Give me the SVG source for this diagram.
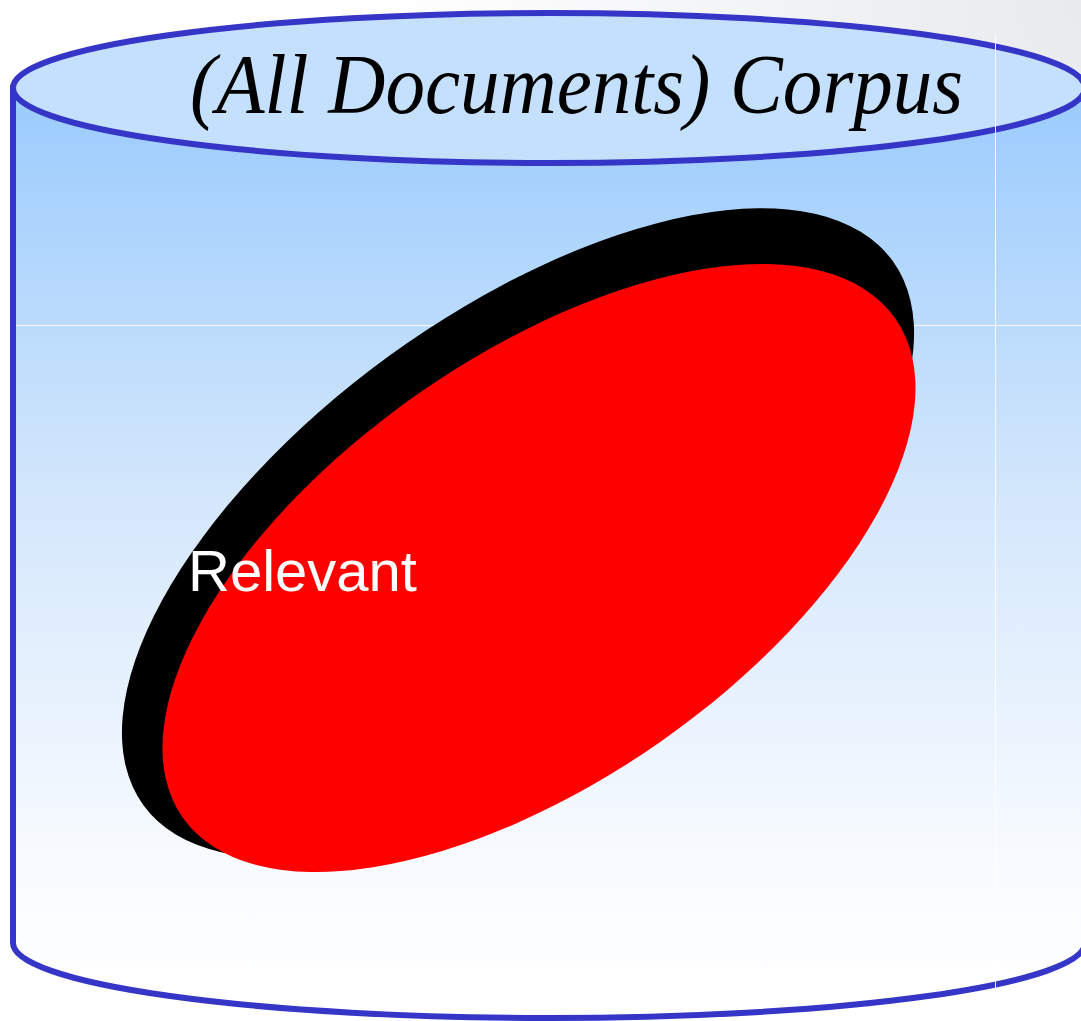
<svg xmlns="http://www.w3.org/2000/svg" width="1081" height="1021" viewBox="0 0 1081 1021">
  <defs>
    <radialGradient id="bg" cx="1081" cy="0" r="700" gradientUnits="userSpaceOnUse">
      <stop offset="0" stop-color="#e8eaee"/>
      <stop offset="1" stop-color="#ffffff"/>
    </radialGradient>
    <linearGradient id="body" x1="0" y1="88" x2="0" y2="1000" gradientUnits="userSpaceOnUse">
      <stop offset="0" stop-color="#9acbfd"/>
      <stop offset="0.45" stop-color="#d4e7fc"/>
      <stop offset="0.85" stop-color="#f8fbff"/>
      <stop offset="1" stop-color="#ffffff"/>
    </linearGradient>
    <style>
      .cyl { stroke: #3535c8; stroke-width: 6; }
      .seam { stroke: #ffffff; stroke-width: 1; opacity: 0.9; }
      .title { font-family: "Liberation Serif", "DejaVu Serif", serif; font-style: italic; font-size: 84px; fill: #000; }
      .label { font-family: "Liberation Sans", Arial, sans-serif; font-size: 58px; fill: #ffffff; }
    </style>
  </defs>
  <rect width="1081" height="1021" fill="url(#bg)"/>
  <g id="corpus">
    <path class="cyl" d="M13,88 L13,943 A536,75 0 0 0 1085,943 L1085,88 Z" fill="url(#body)"/>
    <line class="seam" x1="16" y1="325.5" x2="1081" y2="325.5"/>
    <ellipse class="cyl" cx="549" cy="88" rx="536" ry="75" fill="#c4e0fd"/>
    <text class="title" x="190" y="113" textLength="773" lengthAdjust="spacingAndGlyphs">(All Documents) Corpus</text>
  </g>
  <g id="relevant">
    <ellipse cx="518" cy="533" rx="463" ry="219" fill="#000000" transform="rotate(-36 518 533)"/>
    <ellipse cx="539" cy="568" rx="435" ry="212" fill="#ff0000" transform="rotate(-35 539 568)"/>
    <text class="label" x="188" y="591">Relevant</text>
  </g>
  <line class="seam" x1="995.5" y1="35" x2="995.5" y2="995"/>
</svg>
